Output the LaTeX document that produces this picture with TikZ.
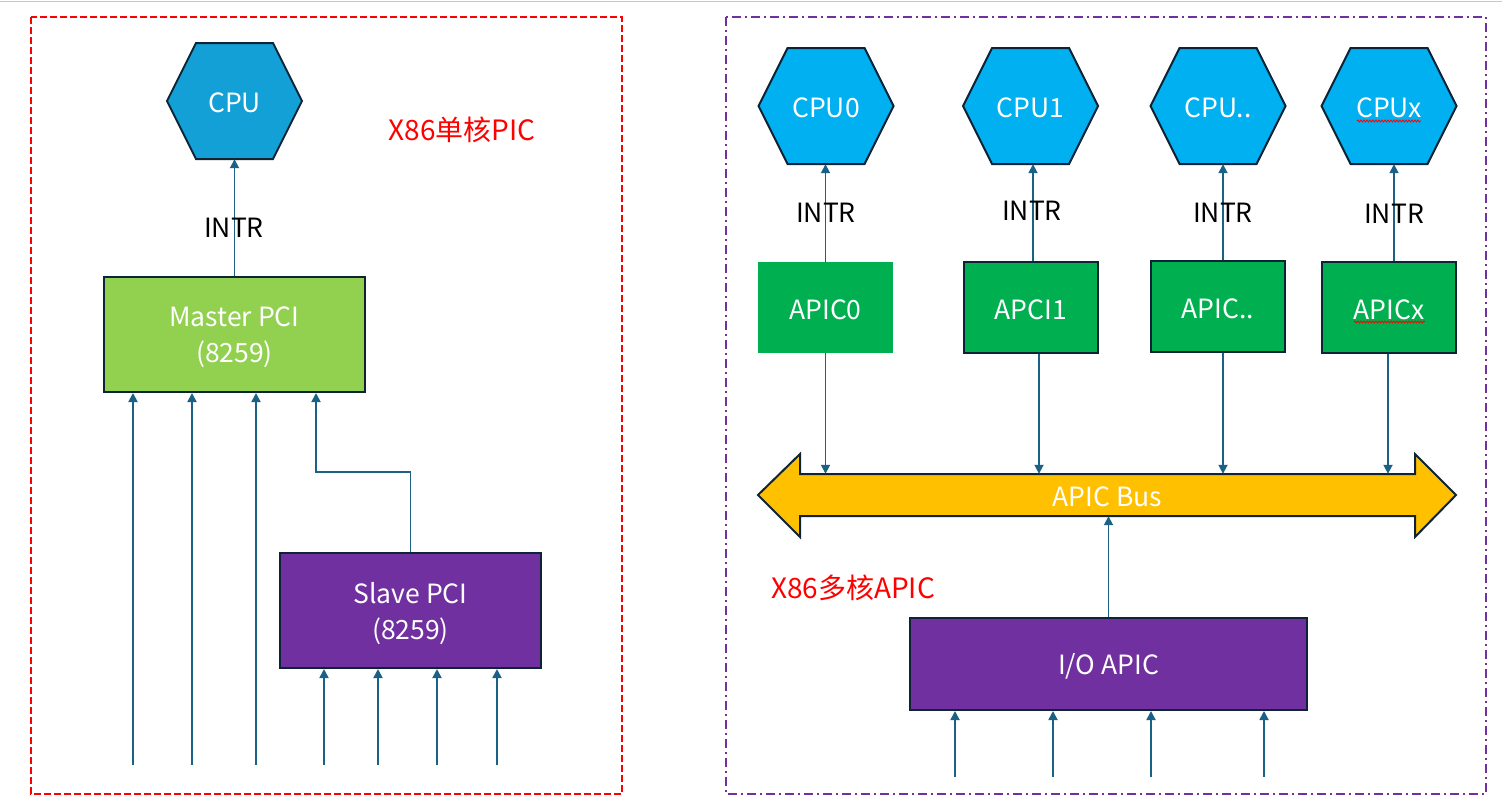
\documentclass[tikz,border=0pt]{standalone}
\usepackage{fontspec}
\setmainfont{Noto Sans CJK SC}
\usetikzlibrary{arrows.meta,decorations.pathmorphing}
\definecolor{cpuL}{RGB}{18,160,214}
\definecolor{cpuR}{RGB}{0,176,240}
\definecolor{mgreen}{RGB}{146,208,80}
\definecolor{agreen}{RGB}{0,176,80}
\definecolor{purp}{RGB}{112,48,160}
\definecolor{busc}{RGB}{255,192,0}
\definecolor{edgec}{RGB}{14,36,54}
\definecolor{arrc}{RGB}{26,97,133}
\definecolor{redc}{RGB}{255,0,0}
\tikzset{
  arr/.style={draw=arrc, line width=1.8pt, -{Triangle[length=9pt,width=9pt]}},
  boxtxt/.style={text=white, font=\fontsize{26.5pt}{36pt}\selectfont, align=center, inner sep=0pt},
  blk/.style={draw=edgec, line width=2pt, minimum width=#1, inner sep=0pt},
  hexa/.style={minimum width=135pt, minimum height=116pt, inner sep=0pt},
  lbl/.style={font=\fontsize{26.5pt}{30pt}\selectfont, text=black, inner sep=0pt},
  redlbl/.style={font=\fontsize{28pt}{30pt}\selectfont, text=redc, inner sep=0pt},
  squig/.style={draw=redc, line width=0.8pt, decorate, decoration={snake, amplitude=1pt, segment length=3pt}},
}
\newcommand\hexshape[4]{% x, y, fill, name
  \filldraw[fill=#3, draw=edgec, line width=2pt]
    ({#1-67.5},{#2}) -- ({#1-38.5},{#2-58}) -- ({#1+38.5},{#2-58}) --
    ({#1+67.5},{#2}) -- ({#1+38.5},{#2+58}) -- ({#1-38.5},{#2+58}) -- cycle;
  \node[hexa] (#4) at (#1,#2) {};
}
\begin{document}
\begin{tikzpicture}[x=1pt,y=-1pt]
\useasboundingbox (0,0) rectangle (1502,811);
\fill[white] (0,0) rectangle (1502,811);
\draw[black!22, line width=1.5pt] (0,1.5) -- (1502,1.5);

% frames
\draw[redc, line width=2pt, dash pattern=on 7pt off 3pt] (31,17) rectangle (622,794);
\draw[purp, line width=2pt, dash pattern=on 9pt off 4pt on 2pt off 4pt] (726,17) rectangle (1486,794);

% ---------- left: single-core PIC ----------
\hexshape{234.5}{101}{cpuL}{cpu}
\node[boxtxt] (cpuT) at ([yshift=-2pt]cpu.center) {CPU};
\node[blk=261pt, fill=mgreen, minimum height=115pt] (master) at (234.5,334.5) {};
\node[boxtxt] (masterT) at ([yshift=-3pt]master.center) {Master PCI\\(8259)};
\node[blk=261pt, fill=purp, minimum height=115pt] (slave) at (410.5,610.5) {};
\node[boxtxt] (slaveT) at ([yshift=-3pt]slave.center) {Slave PCI\\(8259)};
\node[redlbl] (t1) at (462,130) {X86单核PIC};

\draw[arr] (master.north) -- (cpu.south);
\node[lbl] (intr) at (234,228) {INTR};

\foreach \i/\x in {1/133,2/192,3/256}{
  \coordinate (m\i) at (\x,765);
  \draw[arr] (m\i) -- (m\i |- master.south);
}
\coordinate (bend) at (316,472);
\draw[arr] (slave.north) |- (bend) -- (bend |- master.south);
\foreach \i/\x in {1/324,2/378,3/437,4/497}{
  \coordinate (s\i) at (\x,765);
  \draw[arr] (s\i) -- (s\i |- slave.south);
}

% ---------- right: multi-core APIC ----------
\hexshape{826}{106}{cpuR}{c0}
\hexshape{1030.5}{106}{cpuR}{c1}
\hexshape{1218}{106}{cpuR}{c2}
\hexshape{1389}{106}{cpuR}{c3}
\node[boxtxt] (c0T) at ([yshift=-2pt]c0.center) {CPU0};
\node[boxtxt] (c1T) at ([yshift=-2pt]c1.center) {CPU1};
\node[boxtxt] (c2T) at ([yshift=-2pt]c2.center) {CPU..};
\node[boxtxt] (c3T) at ([yshift=-2pt]c3.center) {CPUx};
\draw[squig] (1357,121) -- (1421,121);

\node[fill=agreen, minimum width=135pt, minimum height=91pt, inner sep=0pt] (a0) at (825.5,307.5) {};
\node[blk=134pt, fill=agreen, minimum height=91pt] (a1) at (1031,307.5) {};
\node[blk=134pt, fill=agreen, minimum height=91pt] (a2) at (1218,306.5) {};
\node[blk=134pt, fill=agreen, minimum height=91pt] (a3) at (1389,307.5) {};
\node[boxtxt] (a0T) at ([yshift=-2pt]a0.center) {APIC0};
\node[boxtxt] (a1T) at ([yshift=-2pt]a1.center) {APCI1};
\node[boxtxt] (a2T) at ([yshift=-2pt]a2.center) {APIC..};
\node[boxtxt] (a3T) at ([yshift=-2pt]a3.center) {APICx};
\draw[squig] (1354,322) -- (1425,322);

\draw[arr] (a0.north) -- (a0.north |- c0.south);
\draw[arr] ([xshift=2pt]a1.north) -- ([xshift=2pt]a1.north |- c1.south);
\draw[arr] ([xshift=5pt]a2.north) -- ([xshift=5pt]a2.north |- c2.south);
\draw[arr] ([xshift=5pt]a3.north) -- ([xshift=5pt]a3.north |- c3.south);
\node[lbl] at (826,213) {INTR};
\node[lbl] at (1032,211) {INTR};
\node[lbl] at (1223,213) {INTR};
\node[lbl] at (1394,214) {INTR};

% APIC bus
\filldraw[fill=busc, draw=edgec, line width=2pt]
  (758,495) -- (800,454) -- (800,474) -- (1415,474) -- (1415,454) -- (1456,495)
  -- (1415,537) -- (1415,516) -- (800,516) -- (800,537) -- cycle;
\node[minimum width=615pt, minimum height=42pt, inner sep=0pt] (bus) at (1107.5,495) {};
\node[boxtxt] (busT) at ([yshift=-2pt]bus.center) {APIC Bus};

\draw[arr] (a0.south) -- (a0.south |- bus.north);
\draw[arr] ([xshift=8pt]a1.south) -- ([xshift=8pt]a1.south |- bus.north);
\draw[arr] ([xshift=5pt]a2.south) -- ([xshift=5pt]a2.south |- bus.north);
\draw[arr] ([xshift=-1pt]a3.south) -- ([xshift=-1pt]a3.south |- bus.north);

\node[blk=397pt, fill=purp, minimum height=92pt] (io) at (1108.5,664) {};
\node[boxtxt] (ioT) at ([yshift=-2pt]io.center) {I/O APIC};
\draw[arr] (io.north) -- (io.north |- bus.south);
\node[redlbl] (t2) at (853,588) {X86多核APIC};

\foreach \i/\x in {1/955,2/1053,3/1151,4/1264}{
  \coordinate (i\i) at (\x,777);
  \draw[arr] (i\i) -- (i\i |- io.south);
}
\end{tikzpicture}
\end{document}
